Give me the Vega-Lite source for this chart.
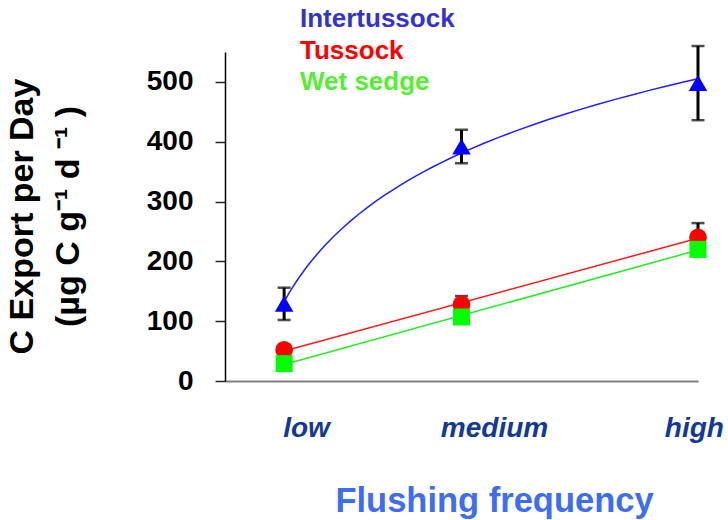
{
  "$schema": "https://vega.github.io/schema/vega-lite/v6.json",
  "width": 473,
  "height": 329,
  "autosize": "none",
  "padding": {"left": 225, "top": 52, "right": 30, "bottom": 139},
  "background": "white",
  "config": {
    "view": {"stroke": null},
    "font": "Liberation Sans"
  },
  "data": {
    "values": [
      {"series": "Tussock", "level": "low", "freq": 1, "export": 52, "lo": 46, "hi": 58},
      {"series": "Tussock", "level": "medium", "freq": 4, "export": 128, "lo": 114, "hi": 142},
      {"series": "Tussock", "level": "high", "freq": 8, "export": 240, "lo": 216, "hi": 264},
      {"series": "Wet sedge", "level": "low", "freq": 1, "export": 29, "lo": 24, "hi": 34},
      {"series": "Wet sedge", "level": "medium", "freq": 4, "export": 107, "lo": 100, "hi": 114},
      {"series": "Wet sedge", "level": "high", "freq": 8, "export": 220, "lo": 212, "hi": 228},
      {"series": "Intertussock", "level": "low", "freq": 1, "export": 129, "lo": 102, "hi": 156},
      {"series": "Intertussock", "level": "medium", "freq": 4, "export": 392, "lo": 364, "hi": 420},
      {"series": "Intertussock", "level": "high", "freq": 8, "export": 498, "lo": 436, "hi": 560}
    ]
  },
  "layer": [
    {
      "mark": {"type": "rule", "color": "black", "strokeWidth": 3},
      "encoding": {
        "x": {
          "field": "freq",
          "type": "quantitative",
          "scale": {"domain": [0, 8], "nice": false},
          "axis": {
            "values": [1.37, 4.55, 7.93],
            "labelExpr": "datum.value < 2 ? 'low' : datum.value < 6 ? 'medium' : 'high'",
            "grid": false,
            "ticks": false,
            "domainColor": "#7f7f7f",
            "domainWidth": 2,
            "labelFont": "Liberation Sans",
            "labelFontSize": 28,
            "labelFontWeight": "bold",
            "labelFontStyle": "italic",
            "labelColor": "#12389c",
            "labelPadding": 33,
            "labelFlush": false,
            "labelOverlap": false,
            "title": "Flushing frequency",
            "titleFont": "Liberation Sans",
            "titleFontSize": 34.5,
            "titleFontWeight": "bold",
            "titleColor": "#3d6cf5",
            "titleX": 269,
            "titleY": 130,
            "titleAlign": "center",
            "titleBaseline": "alphabetic"
          }
        },
        "y": {
          "field": "lo",
          "type": "quantitative",
          "scale": {"domain": [0, 550], "nice": false},
          "axis": {
            "values": [0, 100, 200, 300, 400, 500],
            "grid": false,
            "tickSize": 10,
            "tickColor": "#222222",
            "tickWidth": 1.5,
            "domainColor": "black",
            "domainWidth": 1.5,
            "labelFont": "Liberation Sans",
            "labelFontSize": 28,
            "labelFontWeight": "bold",
            "labelColor": "black",
            "labelPadding": 22,
            "title": ["C Export per Day", "(µg C g⁻¹ d ⁻¹ )"],
            "titleFont": "Liberation Sans",
            "titleFontSize": 34,
            "titleFontWeight": "bold",
            "titleColor": "black",
            "titleLineHeight": 46,
            "titleAngle": -90,
            "titleX": -203,
            "titleY": 164,
            "titleAlign": "center",
            "titleBaseline": "middle"
          }
        },
        "y2": {"field": "hi"}
      }
    },
    {
      "mark": {"type": "tick", "orient": "horizontal", "color": "black", "size": 13, "thickness": 2.5},
      "encoding": {
        "x": {"field": "freq", "type": "quantitative"},
        "y": {"field": "lo", "type": "quantitative"}
      }
    },
    {
      "mark": {"type": "tick", "orient": "horizontal", "color": "black", "size": 13, "thickness": 2.5},
      "encoding": {
        "x": {"field": "freq", "type": "quantitative"},
        "y": {"field": "hi", "type": "quantitative"}
      }
    },
    {
      "transform": [
        {"filter": "datum.series == 'Intertussock'"},
        {"regression": "export", "on": "freq", "method": "log"}
      ],
      "mark": {"type": "line", "color": "#1f1fff", "strokeWidth": 1.5},
      "encoding": {
        "x": {"field": "freq", "type": "quantitative"},
        "y": {"field": "export", "type": "quantitative"}
      }
    },
    {
      "transform": [
        {"filter": "datum.series == 'Tussock'"},
        {"regression": "export", "on": "freq", "method": "linear"}
      ],
      "mark": {"type": "line", "color": "#ff1a1a", "strokeWidth": 1.5},
      "encoding": {
        "x": {"field": "freq", "type": "quantitative"},
        "y": {"field": "export", "type": "quantitative"}
      }
    },
    {
      "transform": [
        {"filter": "datum.series == 'Wet sedge'"},
        {"regression": "export", "on": "freq", "method": "linear"}
      ],
      "mark": {"type": "line", "color": "#22ee22", "strokeWidth": 1.5},
      "encoding": {
        "x": {"field": "freq", "type": "quantitative"},
        "y": {"field": "export", "type": "quantitative"}
      }
    },
    {
      "mark": {"type": "point", "filled": true, "opacity": 1, "strokeWidth": 0},
      "encoding": {
        "x": {"field": "freq", "type": "quantitative"},
        "y": {"field": "export", "type": "quantitative"},
        "color": {
          "field": "series",
          "type": "nominal",
          "scale": {
            "domain": ["Intertussock", "Tussock", "Wet sedge"],
            "range": ["#0000ff", "#ff0000", "#00ff00"]
          },
          "legend": {
            "orient": "none",
            "legendX": 49,
            "legendY": -46,
            "title": null,
            "padding": 0,
            "symbolSize": 0,
            "symbolOpacity": 0,
            "symbolStrokeWidth": 0,
            "labelOffset": 0,
            "rowPadding": 5.5,
            "labelFont": "Liberation Sans",
            "labelFontSize": 26,
            "labelFontWeight": "bold",
            "labelLimit": 300,
            "labelColor": {"expr": "datum.label == 'Intertussock' ? '#3333cc' : datum.label == 'Tussock' ? '#ff0000' : '#55ee33'"}
          }
        },
        "shape": {
          "field": "series",
          "type": "nominal",
          "scale": {
            "domain": ["Intertussock", "Tussock", "Wet sedge"],
            "range": ["triangle-up", "circle", "square"]
          },
          "legend": null
        },
        "size": {
          "field": "series",
          "type": "ordinal",
          "scale": {
            "domain": ["Intertussock", "Tussock", "Wet sedge"],
            "range": [340, 290, 400]
          },
          "legend": null
        }
      }
    }
  ]
}
